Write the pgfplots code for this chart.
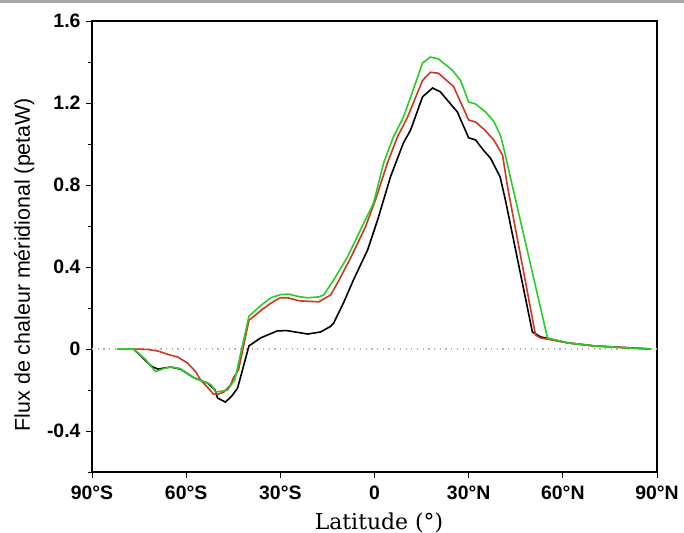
\documentclass[border=0pt]{standalone}
\usepackage{fontspec}
\setmainfont{Liberation Sans}
\newfontfamily\serifx{DejaVu Serif}
\usepackage{pgfplots}
\pgfplotsset{compat=1.18}
\definecolor{cgreen}{RGB}{40,205,40}
\definecolor{cred}{RGB}{205,55,35}
\begin{document}
\begin{tikzpicture}
\useasboundingbox (-92bp,-61bp) rectangle (592bp,472bp);
\fill[gray!70] (-92bp,469bp) rectangle (592bp,472bp);
\begin{axis}[
  at={(0,0)}, anchor=south west,
  scale only axis, width=565bp, height=451bp,
  xmin=-90, xmax=90, ymin=-0.6, ymax=1.6,
  xtick={-90,-60,-30,0,30,60,90},
  xticklabels={90°S,60°S,30°S,0,30°N,60°N,90°N},
  ytick={-0.4,0,0.4,0.8,1.2,1.6},
  yticklabels={-0.4,0,0.4,0.8,1.2,1.6},
  minor ytick={-0.6,-0.2,0.2,0.6,1.0,1.4},
  tick align=outside,
  xtick pos=left, ytick pos=left,
  major tick length=6bp, minor tick length=4bp,
  every tick/.style={black, line width=0.8bp},
  axis line style={line width=1.6bp},
  ticklabel style={font=\bfseries\fontsize{19.5}{19.5}\selectfont},
  /pgf/number format/assume math mode=true,
  xticklabel style={yshift=-4bp},
  yticklabel style={xshift=-2bp},
  xlabel={\serifx\fontsize{22}{22}\selectfont Latitude (°)},
  ylabel={\fontsize{21.5}{21.5}\selectfont Flux de chaleur méridional (petaW)},
  xlabel style={at={(axis description cs:0.508,-0.112)}, anchor=center},
  ylabel style={at={(axis description cs:-0.12,0.46)}, anchor=center},
  clip=false,
]
\addplot[gray!60, line width=1.2bp, dash pattern=on 1.2bp off 4.5bp] coordinates {(-90,0) (90,0)};
\addplot[black, line width=1.6bp] coordinates {
(-81.8,0) (-76.8,0) (-74,-0.04) (-71,-0.085) (-69,-0.098) (-65,-0.088) (-61.8,-0.098)
(-57.6,-0.14) (-53.2,-0.166) (-50.8,-0.2) (-50,-0.239) (-47.5,-0.259) (-45.5,-0.23)
(-43.6,-0.19) (-40,0.015) (-36.3,0.054) (-31,0.088) (-28,0.09) (-21.3,0.073)
(-17.2,0.083) (-14,0.11) (-13,0.127) (-9.9,0.224) (-6.7,0.337) (-2.2,0.483) (1,0.63)
(5.1,0.84) (9.2,1.005) (11.5,1.068) (15.3,1.23) (18.5,1.273) (21,1.254) (26.4,1.156)
(30,1.03) (32.2,1.02) (34.7,0.97) (37,0.93) (40,0.84) (41.7,0.727) (50.3,0.083)
(52.9,0.059) (61.5,0.03) (70,0.015) (80,0.007) (88,0)
};
\addplot[cred, line width=1.6bp] coordinates {
(-81.8,0) (-76.8,0) (-72.3,-0.002) (-69,-0.01) (-65,-0.03) (-62.7,-0.039) (-59.6,-0.068)
(-57,-0.11) (-55.4,-0.151) (-53,-0.19) (-51.3,-0.22) (-49.7,-0.22) (-48,-0.21)
(-45.9,-0.176) (-44.9,-0.14) (-43.3,-0.1) (-40,0.14) (-36,0.19) (-33,0.224) (-30,0.25)
(-27.7,0.25) (-24,0.235) (-17.8,0.23) (-14,0.263) (-11.8,0.322) (-7.6,0.444)
(-2.9,0.595) (0.3,0.727) (4.1,0.907) (7.3,1.034) (10.5,1.13) (15.3,1.31) (17.8,1.35)
(20.4,1.345) (25.2,1.28) (30,1.117) (32.2,1.107) (35,1.07) (38,1.02) (40.8,0.946)
(42.4,0.79) (51.3,0.068) (52.9,0.054) (61.5,0.03) (70,0.015) (80,0.006) (88,0)
};
\addplot[cgreen, line width=1.6bp] coordinates {
(-81.8,0) (-76.8,0) (-73,-0.05) (-69.8,-0.11) (-67,-0.095) (-65,-0.088) (-62,-0.095)
(-57.6,-0.14) (-53.2,-0.166) (-52,-0.176) (-50.6,-0.21) (-48.5,-0.205) (-46.8,-0.2)
(-44.5,-0.15) (-40,0.16) (-36,0.215) (-33,0.25) (-30,0.265) (-27.4,0.268) (-24,0.255)
(-21.3,0.25) (-17.8,0.254) (-16.2,0.263) (-13,0.337) (-8.6,0.449) (-4.5,0.58)
(-0.3,0.712) (2.9,0.907) (6,1.034) (9.2,1.13) (12,1.25) (15.3,1.395) (17.8,1.424)
(20.4,1.415) (24.8,1.36) (27.4,1.31) (30,1.205) (32.2,1.195) (35.4,1.156) (38,1.11)
(40.1,1.044) (41,0.99) (55.1,0.054) (61.5,0.03) (70,0.015) (80,0.006) (88,0)
};
\end{axis}
\end{tikzpicture}
\end{document}
